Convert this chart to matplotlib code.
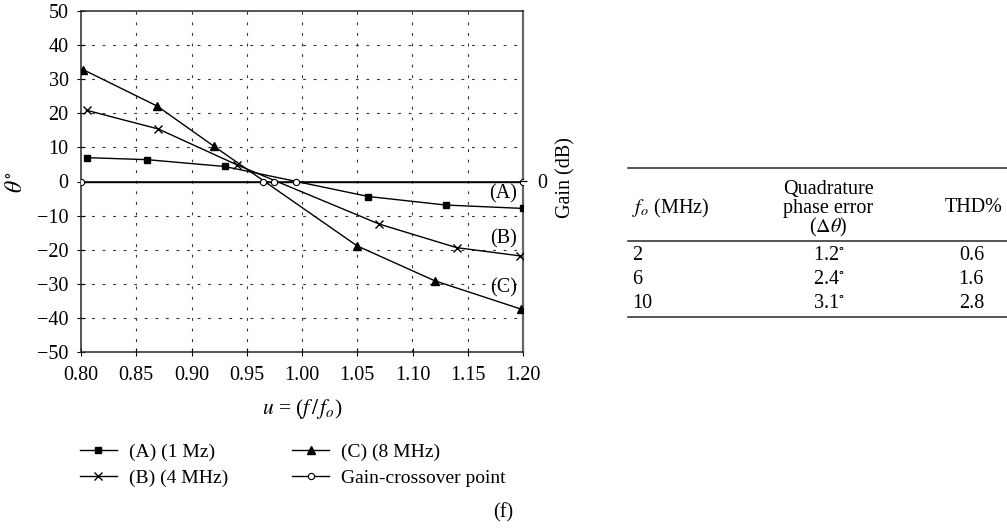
import numpy as np
import matplotlib
matplotlib.use("Agg")
import matplotlib.pyplot as plt

plt.rcParams['font.family'] = ['Liberation Serif', 'DejaVu Serif']
plt.rcParams['mathtext.fontset'] = 'stix'

# phase error curves
u_a = [0.805, 0.86, 0.93, 1.06, 1.13, 1.20]
theta_a = [7.0, 6.4, 4.4, -4.4, -6.9, -7.9]
u_b = [0.805, 0.87, 0.941, 1.07, 1.14, 1.197]
theta_b = [20.9, 15.4, 4.9, -12.5, -19.4, -21.8]
u_c = [0.802, 0.869, 0.92, 1.05, 1.12, 1.198]
theta_c = [32.8, 22.1, 10.4, -18.9, -29.1, -37.4]
# gain crossover points
u_gc = [0.80, 0.965, 0.975, 0.995, 1.20]
gain_gc = [0, 0, 0, 0, 0]

labels = ["(A) (1 Mz)", "(B) (4 MHz)", "(C) (8 MHz)", "Gain-crossover point"]

# table
tbl_fo = ["2", "6", "10"]
tbl_err = ["1.2$^{\\circ}$", "2.4$^{\\circ}$", "3.1$^{\\circ}$"]
tbl_thd = ["0.6", "1.6", "2.8"]

W, H = 1007, 529
fig = plt.figure(figsize=(W / 100, H / 100), dpi=100)
ax = fig.add_axes([81 / W, 1 - 352 / H, (523 - 81) / W, (352 - 11) / H])

fs = 14.5
ax.set_xlim(0.80, 1.20)
ax.set_ylim(-50, 50)
ax.set_xticks(np.arange(0.80, 1.2001, 0.05))
ax.set_xticklabels(["%.2f" % v for v in np.arange(0.80, 1.2001, 0.05)])
ax.set_yticks(np.arange(-50, 51, 10))
ax.set_yticklabels([("\u2212%d" % -v) if v < 0 else "%d" % v for v in range(-50, 51, 10)])
ax.tick_params(axis='both', direction='inout', length=6, width=0.8, labelsize=fs)
ax.tick_params(axis='x', pad=7)
ax.tick_params(axis='y', pad=6)

grid_ls = (0, (2.5, 7))
for v in np.arange(-40, 41, 10):
    if v != 0:
        ax.axhline(v, color='0.2', lw=0.8, ls=grid_ls, zorder=1)
for v in np.arange(0.85, 1.19, 0.05):
    ax.axvline(v, color='0.2', lw=0.8, ls=grid_ls, zorder=1)
ax.axhline(0, color='black', lw=1.1, zorder=2)

la, = ax.plot(u_a, theta_a, color='black', lw=1.0, marker='s', ms=4.5, zorder=3)
lb, = ax.plot(u_b, theta_b, color='black', lw=1.0, marker='x', ms=5.5, mew=1.0, zorder=3)
lc, = ax.plot(u_c, theta_c, color='black', lw=1.0, marker='^', ms=6, zorder=3)
lg, = ax.plot(u_gc, gain_gc, color='black', lw=1.0, marker='o', ms=4.5, mfc='white',
              mew=0.8, zorder=4)

for s in ['left', 'bottom', 'top']:
    ax.spines[s].set_color('0.15')
    ax.spines[s].set_linewidth(1.1)
ax.spines['right'].set_color('0.4')
ax.spines['right'].set_linewidth(1.6)

ax.text(1.182, -3.6, "(A)", fontsize=fs, ha='center', va='center')
ax.text(1.182, -16.8, "(B)", fontsize=fs, ha='center', va='center')
ax.text(1.182, -31.1, "(C)", fontsize=fs, ha='center', va='center')

ax2 = ax.twinx()
ax2.set_ylim(-50, 50)
ax2.set_yticks([0])
ax2.set_yticklabels(["0"])
ax2.tick_params(axis='y', direction='inout', length=6, width=0.8, labelsize=fs, pad=7)
for s in ax2.spines.values():
    s.set_visible(False)

fig.text(16 / W, 1 - 182 / H, r"$\theta^{\circ}$", rotation=90, fontsize=17,
         ha='center', va='center')
fig.text(566 / W, 1 - 178 / H, "Gain (dB)", rotation=90, fontsize=fs,
         ha='center', va='center')
fig.text(302 / W, 1 - 409 / H, r"$u$ = ($f\,/\,f_o$)", fontsize=fs + 1,
         ha='center', va='center')

fig.legend([la, lb, lc, lg], labels, loc='upper left', ncol=2,
           bbox_to_anchor=(80 / W, 1 - 443 / H), frameon=False, fontsize=fs - 0.5,
           handlelength=1.9, handletextpad=0.6, columnspacing=3.3, labelspacing=0.45,
           borderaxespad=0, borderpad=0)

fig.text(503 / W, 1 - 513 / H, "(f)", fontsize=fs, ha='center', va='center')

# table drawn in figure coordinates
def fy(y):
    return 1 - y / H

x0, x1 = 628 / W, 1.0
for y in [168, 241, 317]:
    fig.add_artist(plt.Line2D([x0, x1], [fy(y), fy(y)], color='0.15', lw=1.1))

tfs = 14.5
fig.text(632 / W, fy(208), r"$f_o$ (MHz)", fontsize=tfs, ha='left', va='center')
fig.text(828 / W, fy(189), "Quadrature", fontsize=tfs, ha='center', va='center')
fig.text(828 / W, fy(208), "phase error", fontsize=tfs, ha='center', va='center')
fig.text(828 / W, fy(227), r"($\Delta\theta$)", fontsize=tfs, ha='center', va='center')
fig.text(1003 / W, fy(208), "THD%", fontsize=tfs, ha='right', va='center')
for i, yy in enumerate([256, 280, 303]):
    fig.text(632 / W, fy(yy), tbl_fo[i], fontsize=tfs, ha='left', va='center')
    fig.text(829 / W, fy(yy), tbl_err[i], fontsize=tfs, ha='center', va='center')
    fig.text(984 / W, fy(yy), tbl_thd[i], fontsize=tfs, ha='right', va='center')

fig.savefig("out.png", dpi=100)
